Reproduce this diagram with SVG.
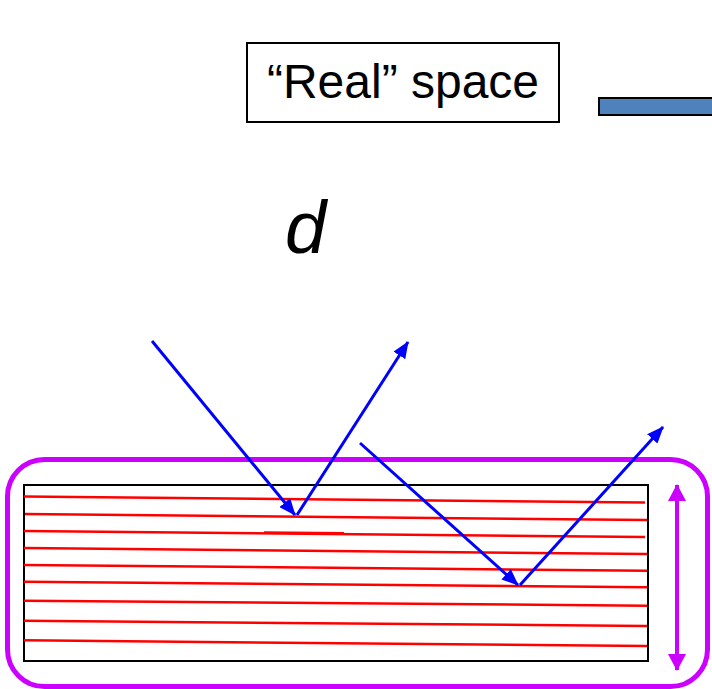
<svg xmlns="http://www.w3.org/2000/svg" width="712" height="689" viewBox="0 0 712 689">
  <defs>
    <marker id="blueHead" markerUnits="userSpaceOnUse" markerWidth="18" markerHeight="14" refX="16" refY="7" orient="auto">
      <path d="M0,0 L17,7 L0,14 z" fill="#0000FF"/>
    </marker>
    <marker id="purpleHead" markerUnits="userSpaceOnUse" markerWidth="18" markerHeight="18" refX="16" refY="9" orient="auto-start-reverse">
      <path d="M0,0 L17,9 L0,18 z" fill="#CC00FF"/>
    </marker>
    <filter id="shadow" x="-50%" y="-10%" width="200%" height="120%">
      <feGaussianBlur stdDeviation="1.5"/>
    </filter>
  </defs>
  <style>
    .label { font-family: "Liberation Sans", Arial, sans-serif; fill: #000; }
    .ray { stroke: #0000FF; stroke-width: 3; fill: none; }
    .plane { stroke: #FF0000; stroke-width: 2.5; fill: none; }
  </style>

  <g id="real-space-label">
    <rect x="247" y="43" width="312" height="79" fill="#FFFFFF" stroke="#000000" stroke-width="2"/>
    <text class="label" x="403" y="98" font-size="48" text-anchor="middle">“Real” space</text>
  </g>

  <g id="blue-bar">
    <rect x="599" y="98" width="120" height="17" fill="#4F81BD" stroke="#000000" stroke-width="2"/>
  </g>

  <g id="d-label">
    <text class="label" x="285" y="253" font-size="74" font-style="italic">d</text>
  </g>

  <g id="crystal-frame">
    <rect x="7.5" y="459.5" width="700" height="227" rx="37" ry="37" fill="none" stroke="#CC00FF" stroke-width="5"/>
  </g>

  <g id="crystal">
    <rect x="24" y="485" width="624" height="176" fill="#FFFFFF" stroke="#000000" stroke-width="2"/>
    <line class="plane" x1="24" y1="496.5" x2="645" y2="502.5"/>
    <line class="plane" x1="25" y1="514" x2="647" y2="520"/>
    <line class="plane" x1="24" y1="531" x2="645" y2="537"/>
    <line class="plane" x1="264" y1="532.5" x2="344" y2="533.3"/>
    <line class="plane" x1="24" y1="548" x2="647" y2="554"/>
    <line class="plane" x1="24" y1="565" x2="647" y2="570.7"/>
    <line class="plane" x1="24" y1="581.7" x2="647" y2="587.3"/>
    <line class="plane" x1="24" y1="600.7" x2="647" y2="605.7"/>
    <line class="plane" x1="24" y1="620.7" x2="647" y2="626"/>
    <line class="plane" x1="24" y1="640.3" x2="647" y2="646"/>
  </g>

  <g id="connectors">
    <line class="ray" x1="152" y1="341" x2="295" y2="515" marker-end="url(#blueHead)"/>
    <line class="ray" x1="297" y1="515" x2="408" y2="342" marker-end="url(#blueHead)"/>
    <line class="ray" x1="360" y1="443" x2="518" y2="585" marker-end="url(#blueHead)"/>
    <line class="ray" x1="520" y1="585" x2="663" y2="427" marker-end="url(#blueHead)"/>
    <line x1="679" y1="488" x2="679" y2="672" stroke="#B0B0B0" stroke-width="5" filter="url(#shadow)"/>
    <line x1="677" y1="485" x2="677" y2="670" stroke="#CC00FF" stroke-width="4" marker-start="url(#purpleHead)" marker-end="url(#purpleHead)"/>
  </g>
</svg>
